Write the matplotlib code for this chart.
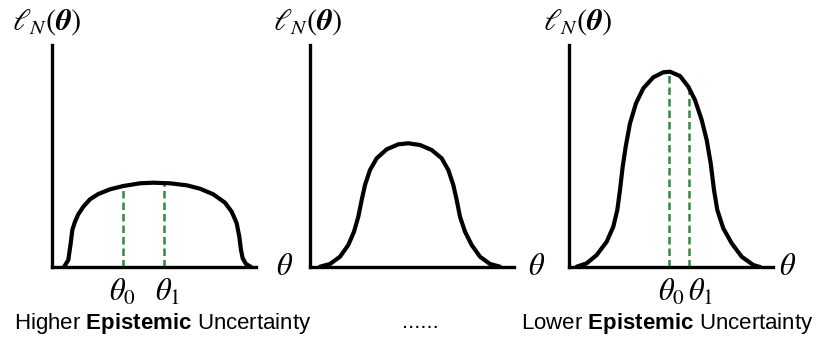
import matplotlib
matplotlib.use("Agg")
import matplotlib.pyplot as plt

plt.rcParams['font.family'] = ['Liberation Sans', 'DejaVu Sans']
plt.rcParams['mathtext.fontset'] = 'custom'
plt.rcParams['mathtext.rm'] = 'Liberation Sans'
plt.rcParams['mathtext.bf'] = 'Liberation Sans:bold'

W, H = 826, 338

# Curves: theta position and likelihood height (pixel units)
wide_theta = [12, 16.3, 18.7, 20.3, 23, 26.3, 31.3, 38, 46.3, 58, 71.3, 88, 101.3, 118,
              134.7, 148, 161.3, 173, 179.7, 184.7, 187.3, 189, 190.7, 194, 198.7]
wide_lik = [0, 7, 23.7, 37, 45.3, 52.7, 60.3, 67.7, 73, 77.7, 81, 83.7, 84.3, 83.7,
            81.7, 78.3, 72.7, 64.3, 55.3, 43.7, 30.3, 17, 8.7, 3, 0.3]
wide_marks = [71, 112]
wide_mark_lik = [81, 84]

mid_theta = [10, 20, 30, 38.3, 44, 48.3, 51.7, 55, 60, 66.7, 76.7, 88.3, 98.3, 110,
             121.7, 131.7, 138.3, 143.3, 146.7, 150, 155, 161.7, 170, 180, 190]
mid_lik = [0.3, 3, 10.3, 22, 35.3, 50.3, 67, 82, 97, 108.7, 117.7, 122.7, 123.7, 122,
           117, 108.7, 97, 82, 67, 50.3, 35.3, 22, 10.3, 3, 0.3]

narrow_theta = [7.7, 17.7, 27.7, 37.7, 44.3, 48.3, 51, 53.7, 56.7, 61, 67, 74.3, 84.3, 94.3,
                101, 111, 119.3, 126, 132.7, 137.7, 141.7, 145, 148.3, 154.3, 162.7, 172.7,
                184.3, 191]
narrow_lik = [0.3, 3.7, 12, 25.3, 40.3, 57, 77, 100.3, 120.3, 143.7, 163.7, 178.7, 189.7,
              194.7, 195.3, 191, 180.3, 167, 147, 127, 103.7, 77, 57, 38.7, 23.7, 10.3, 2, 0]
narrow_marks = [100, 120]
narrow_mark_lik = [195, 177]

panels = [
    (wide_theta, wide_lik, wide_marks, wide_mark_lik),
    (mid_theta, mid_lik, [], []),
    (narrow_theta, narrow_lik, narrow_marks, narrow_mark_lik),
]
axis_left = [52, 310, 569]   # pixel x of each y axis
axis_len = 204
axis_h = 222
baseline = 267

green = '#2e8b3c'

fig = plt.figure(figsize=(W / 100, H / 100), dpi=100)

for (th, lik, marks, mark_lik), x0 in zip(panels, axis_left):
    ax = fig.add_axes([x0 / W, (H - baseline) / H, axis_len / W, axis_h / H])
    ax.set_xlim(0, axis_len)
    ax.set_ylim(0, axis_h)
    ax.plot(th, lik, color='black', lw=3.0, solid_joinstyle='round',
            solid_capstyle='round', clip_on=False, zorder=3)
    for m, h in zip(marks, mark_lik):
        ax.plot([m, m], [0, h], color=green, lw=1.8,
                dashes=(3.0, 1.6), zorder=2, clip_on=False)
    for s in ['top', 'right']:
        ax.spines[s].set_visible(False)
    for s in ['left', 'bottom']:
        ax.spines[s].set_linewidth(2.4)
        ax.spines[s].set_capstyle('projecting')
    ax.set_xticks([])
    ax.set_yticks([])
    ax.patch.set_alpha(0)

def px(x, y):
    return x / W, 1 - y / H

math_kw = dict(math_fontfamily='stix', fontsize=22, color='black')

# y-axis titles
for cx in [47, 308, 578]:
    fig.text(*px(cx, 22), r'$\ell_N(\boldsymbol{\theta})$', ha='center', va='center', **math_kw)

# x-axis labels
for cx in [285, 537, 788]:
    fig.text(*px(cx, 267), r'$\theta$', ha='center', va='center', **math_kw)

# marked parameters
fig.text(*px(109, 293), r'$\theta_0$', ha='left', va='center', **math_kw)
fig.text(*px(155, 293), r'$\theta_1$', ha='left', va='center', **math_kw)
fig.text(*px(658, 293), r'$\theta_0$', ha='left', va='center', **math_kw)
fig.text(*px(688, 293), r'$\theta_1$', ha='left', va='center', **math_kw)

# captions
fig.text(*px(163, 323), r'Higher $\mathbf{Epistemic}$ Uncertainty', ha='center', va='center',
         fontsize=16, math_fontfamily='custom')
fig.text(*px(420, 323), '......', ha='center', va='center', fontsize=16)
fig.text(*px(667, 323), r'Lower $\mathbf{Epistemic}$ Uncertainty', ha='center', va='center',
         fontsize=16, math_fontfamily='custom')

fig.savefig('out.png', dpi=100)
